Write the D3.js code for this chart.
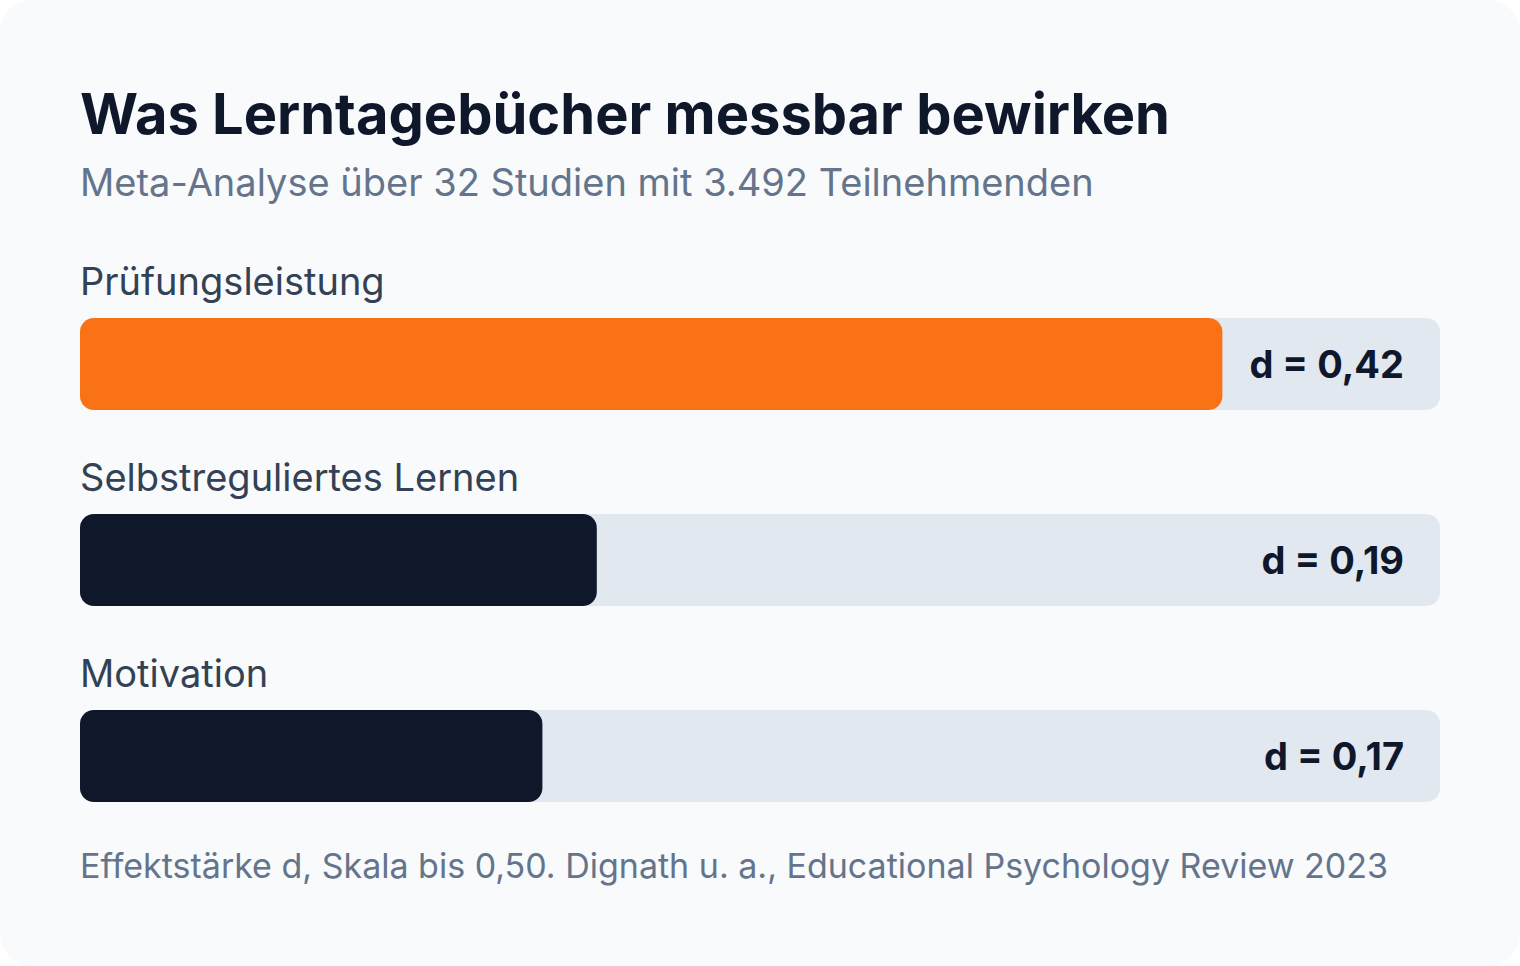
<!DOCTYPE html>
<html>
<head>
<meta charset="utf-8">
<script src="https://cdn.jsdelivr.net/npm/d3@7"></script>
<style>
  html, body { margin: 0; padding: 0; background: #ffffff; }
  svg { display: block; font-family: Inter, "Noto Sans", sans-serif; }
</style>
</head>
<body>
<div id="chart"></div>
<script>
const w = 1520;
const h = 966;
const padLeft = 80;
const padRight = 1440;

const categories = ["Prüfungsleistung", "Selbstreguliertes Lernen", "Motivation"];
const values = [0.42, 0.19, 0.17];
const valueLabels = ["d = 0,42", "d = 0,19", "d = 0,17"];
const highlight = [true, false, false];
const scaleMax = 0.5;

const title = "Was Lerntagebücher messbar bewirken";
const subtitle = "Meta-Analyse über 32 Studien mit 3.492 Teilnehmenden";
const note = "Effektstärke d, Skala bis 0,50. Dignath u. a., Educational Psychology Review 2023";

const rowStep = 196;
const barH = 92;
const barsTop = 318;

var data = categories.map((c, i) => ({name: c, value: values[i], label: valueLabels[i], hi: highlight[i]}));

var svg = d3.select("#chart")
  .append("svg")
  .attr("width", w)
  .attr("height", h);

svg.append("rect")
  .attr("width", w)
  .attr("height", h)
  .attr("rx", 32)
  .attr("fill", "#f8fafc");

svg.append("text")
  .attr("x", padLeft)
  .attr("y", 134)
  .attr("font-size", 56)
  .attr("font-weight", 700)
  .attr("fill", "#0f172a")
  .text(title);

svg.append("text")
  .attr("x", padLeft)
  .attr("y", 196)
  .attr("font-size", 38)
  .attr("fill", "#64748b")
  .text(subtitle);

var x = d3.scaleLinear()
  .domain([0, scaleMax])
  .range([padLeft, padRight]);

var pad = (rowStep - barH) / rowStep;
var y = d3.scaleBand()
  .domain(categories)
  .range([barsTop, barsTop + rowStep * (categories.length - pad)])
  .paddingInner(pad)
  .paddingOuter(0);

var rows = svg.selectAll(".row")
  .data(data)
  .enter()
  .append("g")
  .attr("class", "row");

rows.append("text")
  .attr("x", padLeft)
  .attr("y", d => y(d.name) - 23)
  .attr("font-size", 38)
  .attr("fill", "#334155")
  .text(d => d.name);

rows.append("rect")
  .attr("x", x(0))
  .attr("y", d => y(d.name))
  .attr("width", x(scaleMax) - x(0))
  .attr("height", y.bandwidth())
  .attr("rx", 14)
  .attr("fill", "#e2e8f0");

rows.append("rect")
  .attr("x", x(0))
  .attr("y", d => y(d.name))
  .attr("width", d => x(d.value) - x(0))
  .attr("height", y.bandwidth())
  .attr("rx", 14)
  .attr("fill", d => d.hi ? "#f97316" : "#0f172a");

rows.append("text")
  .attr("x", padRight - 36)
  .attr("y", d => y(d.name) + y.bandwidth() / 2 + 14)
  .attr("text-anchor", "end")
  .attr("font-size", 38)
  .attr("font-weight", 700)
  .attr("fill", "#0f172a")
  .text(d => d.label);

svg.append("text")
  .attr("x", padLeft)
  .attr("y", 878)
  .attr("font-size", 34)
  .attr("fill", "#64748b")
  .text(note);
</script>
</body>
</html>
